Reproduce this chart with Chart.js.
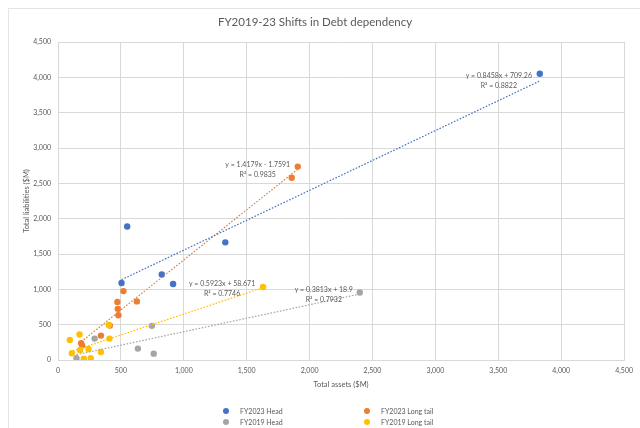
<!DOCTYPE html>
<html>
<head>
<meta charset="utf-8">
<script src="https://cdn.jsdelivr.net/npm/chart.js@4"></script>
<style>
  html, body { margin: 0; padding: 0; background: #fff; overflow: hidden; }
  #wrap { position: relative; width: 640px; height: 428px; }
  #frame { position: absolute; left: 8px; top: 8px; width: 700px; height: 500px; border: 1px solid #e4e4e4; }
  #chart { position: absolute; left: 0; top: 0; }
  .lg { position: absolute; font: 7px Lato, sans-serif; color: #595959; white-space: nowrap; line-height: 8px; }
  .lg span { position: absolute; left: -17px; top: 1px; width: 6px; height: 6px; border-radius: 50%; }
</style>
</head>
<body>
<div id="wrap">
  <div id="frame"></div>
  <canvas id="chart" width="640" height="428"></canvas>
  <div id="legend"></div>
</div>
<script>
// series names, in the order the legend shows them
const seriesNames = ['FY2023 Head', 'FY2023 Long tail', 'FY2019 Head', 'FY2019 Long tail'];
const seriesColors = ['#4472C4', '#ED7D31', '#A5A5A5', '#FFC000'];

// total assets / total liabilities ($M)
const head23X = [550, 505, 825, 915, 1330, 3830];
const head23Y = [1890, 1090, 1210, 1075, 1665, 4050];
const tail23X = [520, 472, 475, 480, 627, 412, 341, 184, 192, 1906, 1858];
const tail23Y = [975, 820, 724, 634, 829, 487, 345, 237, 204, 2737, 2580];
const head19X = [147, 291, 746, 635, 761, 2399];
const head19Y = [24, 303, 483, 161, 90, 956];
const tail19X = [94, 171, 110, 176, 242, 205, 260, 341, 404, 409, 1630];
const tail19Y = [284, 360, 95, 142, 156, 19, 24, 114, 497, 303, 1032];

// linear trendlines as printed on the chart
const trendSlope = [0.8458, 1.4179, 0.3813, 0.5923];
const trendIntercept = [709.26, -1.7591, 18.9, 58.671];
const trendR2 = ['0.8822', '0.9835', '0.7932', '0.7746'];

const axisTicks = [0, 500, 1000, 1500, 2000, 2500, 3000, 3500, 4000, 4500];

const xsAll = [head23X, tail23X, head19X, tail19X];
const ysAll = [head23Y, tail23Y, head19Y, tail19Y];

function pts(xs, ys) {
  return xs.map((x, i) => ({x: x, y: ys[i]}));
}
function trendPts(i) {
  const xs = xsAll[i];
  const lo = Math.min(...xs), hi = Math.max(...xs);
  return [lo, hi].map(x => ({x: x, y: trendSlope[i] * x + trendIntercept[i]}));
}
function eqText(i) {
  const b = trendIntercept[i];
  return 'y = ' + trendSlope[i] + 'x ' + (b < 0 ? '- ' : '+ ') + Math.abs(b);
}

// label placement relative to each series' right-most point (pixels)
const labelOffset = [[-41, 2], [-40, -2], [-36, -3], [-41, -3]];
// yellow on top, then grey, orange, blue
const drawOrder = [3, 2, 1, 0];

const datasets = [];
seriesNames.forEach((name, i) => {
  datasets.push({
    label: name,
    data: pts(xsAll[i], ysAll[i]),
    backgroundColor: seriesColors[i],
    borderWidth: 0,
    pointRadius: 3.2,
    pointHoverRadius: 3.2,
    order: drawOrder[i]
  });
  datasets.push({
    label: name + ' trend',
    data: trendPts(i),
    showLine: true,
    borderColor: seriesColors[i],
    borderWidth: 1.2,
    borderDash: [1.6, 1.6],
    pointRadius: 0,
    fill: false,
    order: -1
  });
});

const trendLabels = {
  id: 'trendLabels',
  afterDatasetsDraw(chart) {
    const ctx = chart.ctx, xs = chart.scales.x, ys = chart.scales.y;
    ctx.save();
    ctx.font = '7px Lato, sans-serif';
    ctx.fillStyle = '#595959';
    ctx.textAlign = 'center';
    ctx.textBaseline = 'middle';
    seriesNames.forEach((n, i) => {
      const xArr = xsAll[i];
      const k = xArr.indexOf(Math.max(...xArr));
      const px = xs.getPixelForValue(xArr[k]) + labelOffset[i][0];
      const py = ys.getPixelForValue(ysAll[i][k]) + labelOffset[i][1];
      ctx.fillText(eqText(i), px, py);
      ctx.fillText('R\u00B2 = ' + trendR2[i], px, py + 10);
    });
    ctx.restore();
  }
};

const gridColor = '#d9d9d9';
const textColor = '#595959';

new Chart(document.getElementById('chart'), {
  type: 'scatter',
  data: {datasets: datasets},
  options: {
    responsive: false,
    animation: false,
    events: [],
    layout: {padding: {left: 0, right: 10, top: 0, bottom: 38}},
    plugins: {
      legend: {display: false},
      tooltip: {enabled: false},
      title: {
        display: true,
        text: 'FY2019-23 Shifts in Debt dependency',
        color: textColor,
        font: {family: 'Lato', size: 11.5, weight: 'normal', lineHeight: 1.2},
        padding: {top: 15, bottom: 13.2}
      }
    },
    scales: {
      x: {
        type: 'linear',
        min: 0, max: 4500,
        afterBuildTicks: s => { s.ticks = axisTicks.map(v => ({value: v})); },
        afterFit: s => { s.height = 30; },
        grid: {color: gridColor, drawTicks: false},
        border: {color: gridColor},
        ticks: {color: textColor, font: {family: 'Lato', size: 7}, padding: 7, maxRotation: 0},
        title: {display: true, text: 'Total assets ($M)', color: textColor,
                font: {family: 'Lato', size: 7.5}, padding: {top: 0, bottom: 0.5}}
      },
      y: {
        type: 'linear',
        min: 0, max: 4500,
        afterBuildTicks: s => { s.ticks = axisTicks.map(v => ({value: v})); },
        afterFit: s => { s.width = 58; },
        grid: {color: gridColor, drawTicks: false},
        border: {color: gridColor},
        ticks: {color: textColor, font: {family: 'Lato', size: 7}, padding: 7},
        title: {display: true, text: 'Total liabilities ($M)', color: textColor,
                font: {family: 'Lato', size: 7.5}, padding: {top: 22.5, bottom: 0}}
      }
    }
  },
  plugins: [trendLabels]
});

// legend, two columns like the original
const legendPos = [[240, 407], [381, 407], [240, 418], [381, 418]];
const legendBox = document.getElementById('legend');
seriesNames.forEach((name, i) => {
  const d = document.createElement('div');
  d.className = 'lg';
  d.style.left = legendPos[i][0] + 'px';
  d.style.top = legendPos[i][1] + 'px';
  d.innerHTML = '<span style="background:' + seriesColors[i] + '"></span>' + name;
  legendBox.appendChild(d);
});
</script>
</body>
</html>
